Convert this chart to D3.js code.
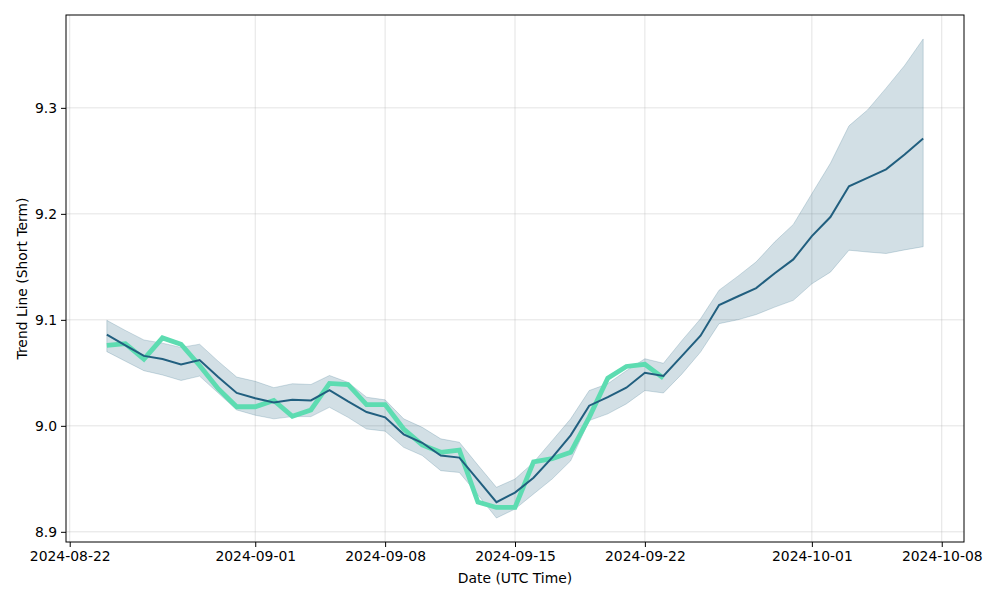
<!DOCTYPE html>
<html>
<head>
<meta charset="utf-8">
<script src="https://cdn.jsdelivr.net/npm/d3@7"></script>
<style>
  body { margin: 0; background: #fff; }
  svg { font-family: "DejaVu Sans", sans-serif; }
</style>
</head>
<body>
<svg width="1000" height="600"></svg>
<script>
// daily dates of the forecast window
const dates = [
    "2024-08-24", "2024-08-25", "2024-08-26", "2024-08-27", "2024-08-28", "2024-08-29", "2024-08-30", "2024-08-31",
    "2024-09-01", "2024-09-02", "2024-09-03", "2024-09-04", "2024-09-05", "2024-09-06", "2024-09-07", "2024-09-08",
    "2024-09-09", "2024-09-10", "2024-09-11", "2024-09-12", "2024-09-13", "2024-09-14", "2024-09-15", "2024-09-16",
    "2024-09-17", "2024-09-18", "2024-09-19", "2024-09-20", "2024-09-21", "2024-09-22", "2024-09-23", "2024-09-24",
    "2024-09-25", "2024-09-26", "2024-09-27", "2024-09-28", "2024-09-29", "2024-09-30", "2024-10-01", "2024-10-02",
    "2024-10-03", "2024-10-04", "2024-10-05", "2024-10-06", "2024-10-07"
];
const trend = [
    9.086, 9.076, 9.066, 9.063, 9.058, 9.062, 9.046, 9.031,
    9.026, 9.022, 9.0245, 9.024, 9.0336, 9.023, 9.013, 9.008,
    8.992, 8.984, 8.972, 8.970, 8.949, 8.928, 8.937, 8.951,
    8.970, 8.991, 9.019, 9.027, 9.036, 9.050, 9.047, 9.066,
    9.085, 9.114, 9.122, 9.130, 9.144, 9.157, 9.179, 9.197,
    9.226, 9.234, 9.242, 9.256, 9.271
];
const upper = [
    9.0995, 9.090, 9.081, 9.078, 9.074, 9.077, 9.061, 9.046,
    9.042, 9.036, 9.0397, 9.039, 9.0475, 9.041, 9.027, 9.0245,
    9.0066, 8.9986, 8.9877, 8.9845, 8.963, 8.942, 8.9498, 8.9655,
    8.986, 9.0066, 9.0333, 9.0397, 9.052, 9.0633, 9.059, 9.0806,
    9.101, 9.128, 9.141, 9.1547, 9.1736, 9.190, 9.219, 9.2477,
    9.283, 9.298, 9.3186, 9.340, 9.365
];
const lower = [
    9.070, 9.061, 9.052, 9.048, 9.0428, 9.0469, 9.031, 9.015,
    9.010, 9.0066, 9.0087, 9.0087, 9.0175, 9.008, 8.997, 8.995,
    8.9797, 8.972, 8.9577, 8.956, 8.935, 8.913, 8.9215, 8.9357,
    8.9498, 8.967, 9.005, 9.0113, 9.0207, 9.0333, 9.031, 9.049,
    9.0696, 9.0964, 9.100, 9.105, 9.112, 9.1184, 9.134, 9.145,
    9.1657, 9.164, 9.1626, 9.166, 9.169
];
// observed values, 2024-08-24 .. 2024-09-23
const actual = [
    9.076, 9.0775, 9.063, 9.083, 9.077, 9.057, 9.035, 9.018,
    9.018, 9.024, 9.009, 9.015, 9.040, 9.039, 9.020, 9.020,
    8.997, 8.982, 8.975, 8.977, 8.928, 8.923, 8.923, 8.966,
    8.969, 8.975, 9.008, 9.045, 9.056, 9.058, 9.045
];
const xTickLabels = ["2024-08-22", "2024-09-01", "2024-09-08", "2024-09-15", "2024-09-22", "2024-10-01", "2024-10-08"];
const yTickValues = [8.9, 9.0, 9.1, 9.2, 9.3];

const svg = d3.select("svg");
const M = {left: 66, right: 36, top: 15, bottom: 58};
const W = +svg.attr("width");
const H = +svg.attr("height");
const FS = 13.9;
const parse = d3.utcParse("%Y-%m-%d");

const rows = dates.map((d, i) => ({
    date: parse(d), trend: trend[i], upper: upper[i], lower: lower[i],
    actual: i < actual.length ? actual[i] : null
}));

// matplotlib style 5% margins
const pad = (lo, hi) => [lo - (hi - lo) * 0.05, hi + (hi - lo) * 0.05];
const xe = d3.extent(rows, d => +d.date);
const xd = pad(xe[0], xe[1]);
const x = d3.scaleUtc()
    .domain([new Date(xd[0]), new Date(xd[1])])
    .range([M.left, W - M.right]);
const yd = pad(d3.min(lower), d3.max(upper));
const y = d3.scaleLinear()
    .domain(yd)
    .range([H - M.bottom, M.top]);

const xTicks = xTickLabels.map(parse);

// grid
svg.append("g")
    .selectAll("line.gx")
    .data(xTicks)
    .join("line")
    .attr("x1", d => x(d)).attr("x2", d => x(d))
    .attr("y1", M.top).attr("y2", H - M.bottom)
    .attr("stroke", "#b0b0b0").attr("stroke-opacity", 0.35).attr("stroke-width", 1);
svg.append("g")
    .selectAll("line.gy")
    .data(yTickValues)
    .join("line")
    .attr("x1", M.left).attr("x2", W - M.right)
    .attr("y1", d => y(d)).attr("y2", d => y(d))
    .attr("stroke", "#b0b0b0").attr("stroke-opacity", 0.35).attr("stroke-width", 1);

// confidence band
const area = d3.area()
    .x(d => x(d.date))
    .y0(d => y(d.lower))
    .y1(d => y(d.upper));
svg.append("path")
    .attr("d", area(rows))
    .attr("fill", "#1f5f7f")
    .attr("fill-opacity", 0.2)
    .attr("stroke", "#1f5f7f")
    .attr("stroke-opacity", 0.2)
    .attr("stroke-width", 1);

// actual
const lineActual = d3.line()
    .defined(d => d.actual !== null)
    .x(d => x(d.date))
    .y(d => y(d.actual));
svg.append("path")
    .attr("d", lineActual(rows))
    .attr("fill", "none")
    .attr("stroke", "#5ddcb1")
    .attr("stroke-width", 4.8)
    .attr("stroke-linejoin", "miter");

// trend
const lineTrend = d3.line()
    .x(d => x(d.date))
    .y(d => y(d.trend));
svg.append("path")
    .attr("d", lineTrend(rows))
    .attr("fill", "none")
    .attr("stroke", "#215f7f")
    .attr("stroke-width", 2);

// axes
const xAxis = d3.axisBottom(x)
    .tickValues(xTicks)
    .tickFormat(d3.utcFormat("%Y-%m-%d"))
    .tickSizeOuter(0)
    .tickSize(5)
    .tickPadding(4);
const yAxis = d3.axisLeft(y)
    .tickValues(yTickValues)
    .tickFormat(d3.format(".1f"))
    .tickSizeOuter(0)
    .tickSize(5)
    .tickPadding(4);

const gx = svg.append("g")
    .attr("transform", `translate(0,${H - M.bottom})`)
    .call(xAxis);
const gy = svg.append("g")
    .attr("transform", `translate(${M.left},0)`)
    .call(yAxis);
[gx, gy].forEach(g => {
    g.select(".domain").remove();
    g.selectAll("text").attr("font-size", FS).attr("fill", "#000")
        .attr("font-family", "DejaVu Sans, sans-serif");
    g.selectAll("line").attr("stroke", "#000");
});

// frame
svg.append("rect")
    .attr("x", M.left).attr("y", M.top)
    .attr("width", W - M.left - M.right)
    .attr("height", H - M.top - M.bottom)
    .attr("fill", "none")
    .attr("stroke", "#000")
    .attr("stroke-width", 1);

// labels
svg.append("text")
    .attr("x", (M.left + W - M.right) / 2)
    .attr("y", 583)
    .attr("text-anchor", "middle")
    .attr("font-size", FS)
    .text("Date (UTC Time)");
svg.append("text")
    .attr("transform", `translate(27,${(M.top + H - M.bottom) / 2}) rotate(-90)`)
    .attr("text-anchor", "middle")
    .attr("font-size", FS)
    .text("Trend Line (Short Term)");
</script>
</body>
</html>
